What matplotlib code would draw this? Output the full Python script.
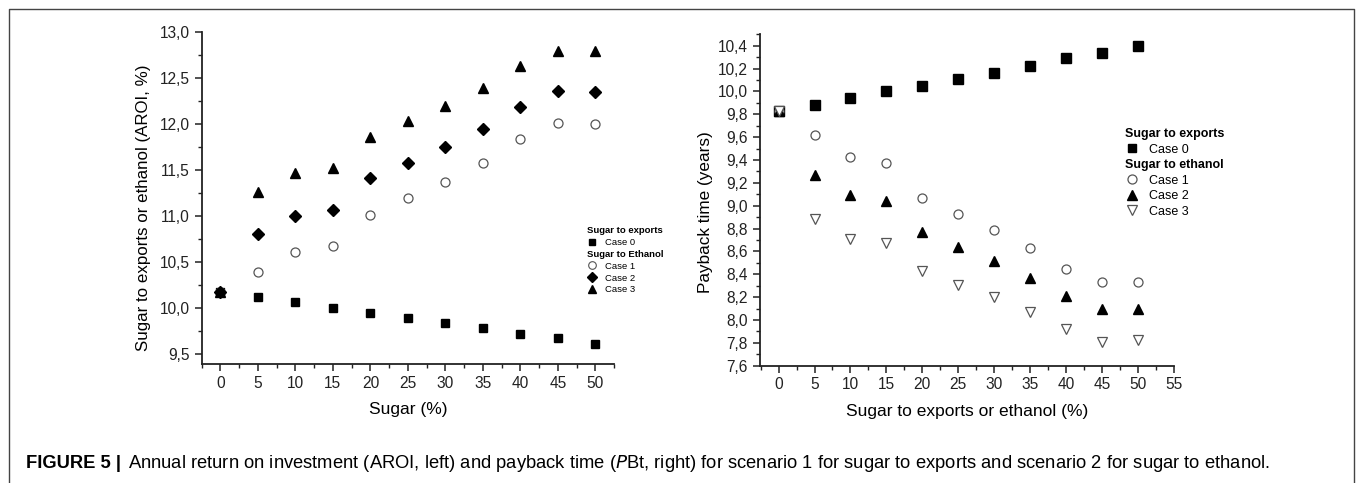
import matplotlib
matplotlib.use('Agg')
import matplotlib.pyplot as plt
from matplotlib.lines import Line2D
from matplotlib.ticker import MultipleLocator, FuncFormatter
import numpy as np

plt.rcParams['font.family'] = ['Liberation Sans', 'DejaVu Sans']

# ---- data ----
sugar = [0, 5, 10, 15, 20, 25, 30, 35, 40, 45, 50]

# left: AROI (%)
aroi_case0 = [10.17, 10.12, 10.06, 10.00, 9.95, 9.89, 9.84, 9.78, 9.72, 9.67, 9.61]
aroi_case1 = [10.17, 10.39, 10.61, 10.67, 11.01, 11.20, 11.37, 11.58, 11.84, 12.01, 12.00]
aroi_case2 = [10.17, 10.80, 11.00, 11.07, 11.41, 11.58, 11.75, 11.95, 12.19, 12.36, 12.35]
aroi_case3 = [10.17, 11.26, 11.47, 11.52, 11.86, 12.03, 12.20, 12.39, 12.63, 12.80, 12.79]

# right: payback time (years)
pbt_case0 = [9.83, 9.88, 9.94, 10.00, 10.05, 10.11, 10.16, 10.22, 10.29, 10.34, 10.40]
pbt_case1 = [9.83, 9.62, 9.43, 9.37, 9.07, 8.93, 8.79, 8.63, 8.45, 8.33, 8.33]
pbt_case2 = [9.83, 9.27, 9.09, 9.04, 8.77, 8.64, 8.52, 8.37, 8.21, 8.10, 8.10]
pbt_case3 = [9.83, 8.88, 8.71, 8.67, 8.43, 8.31, 8.20, 8.07, 7.92, 7.81, 7.82]

left_headers = ['Sugar to exports', 'Sugar to Ethanol']
right_headers = ['Sugar to exports', 'Sugar to ethanol']

comma = FuncFormatter(lambda v, p: ('%.1f' % v).replace('.', ','))
comma0 = FuncFormatter(lambda v, p: '%d' % round(v))


def style_axes(ax):
    for s in ['top', 'right']:
        ax.spines[s].set_visible(False)
    for s in ['left', 'bottom']:
        ax.spines[s].set_linewidth(1.3)
        ax.spines[s].set_color('#222222')
    ax.tick_params(which='major', direction='out', length=5, width=1.1,
                   labelsize=11.2, colors='#222222')
    ax.tick_params(which='minor', direction='out', length=3, width=1.0,
                   colors='#222222')


def header_legend(ax, handles, labels, headers, fs, anchor, spacing):
    leg = ax.legend(handles, labels, loc='upper left', bbox_to_anchor=anchor,
                    frameon=False, fontsize=fs, borderpad=0, labelspacing=spacing,
                    handlelength=1.0, handletextpad=0.9, borderaxespad=0)
    # header rows: bold, no handle space
    col = leg._legend_handle_box.get_children()[0]
    for row, t in zip(col.get_children(), leg.get_texts()):
        if t.get_text() in headers:
            t.set_fontweight('bold')
            row.get_children()[0].width = 0
            row.sep = 0
    return leg


fig = plt.figure(figsize=(13.57, 4.83), dpi=100)

# outer frame (top, left, right)
fig.add_artist(Line2D([0.0066, 0.0066, 0.9978, 0.9978], [0.0, 0.981, 0.981, 0.0],
                      transform=fig.transFigure, color='#444444', lw=1.0))

# ---- left panel ----
ax1 = fig.add_axes([0.1486, 0.2464, 0.304, 0.687])
ax1.plot(sugar, aroi_case0, 's', ms=6, color='black', ls='none')
ax1.plot(sugar, aroi_case1, 'o', ms=6.5, mfc='white', mec='#555555', mew=0.9, ls='none')
ax1.plot(sugar, aroi_case2, 'D', ms=6, color='black', ls='none')
ax1.plot(sugar, aroi_case3, '^', ms=7, color='black', ls='none')
ax1.set_xlim(-2.5, 52.5)
ax1.set_ylim(9.39, 13.0)
ax1.xaxis.set_major_locator(MultipleLocator(5))
ax1.xaxis.set_minor_locator(MultipleLocator(2.5))
ax1.yaxis.set_major_locator(MultipleLocator(0.5))
ax1.yaxis.set_minor_locator(MultipleLocator(0.25))
ax1.yaxis.set_major_formatter(comma)
ax1.xaxis.set_major_formatter(comma0)
style_axes(ax1)
ax1.set_xlabel('Sugar (%)', fontsize=12.5, labelpad=8)
ax1.set_ylabel('Sugar to exports or ethanol (AROI, %)', fontsize=12.2)
ax1.yaxis.set_label_coords(-0.122, 0.47)

blank = Line2D([], [], ls='none')
h1 = [blank,
      Line2D([], [], marker='s', ms=5, color='black', ls='none'),
      blank,
      Line2D([], [], marker='o', ms=5.5, mfc='white', mec='#555555', mew=0.8, ls='none'),
      Line2D([], [], marker='D', ms=5, color='black', ls='none'),
      Line2D([], [], marker='^', ms=5.5, color='black', ls='none')]
l1 = [left_headers[0], 'Case 0', left_headers[1], 'Case 1', 'Case 2', 'Case 3']
header_legend(ax1, h1, l1, left_headers, 6.8, (0.935, 0.415), 0.3)

# ---- right panel ----
ax2 = fig.add_axes([0.560, 0.243, 0.305, 0.686])
ax2.plot(sugar, pbt_case0, 's', ms=6.5, color='black', ls='none')
ax2.plot(sugar, pbt_case1, 'o', ms=6.5, mfc='white', mec='#555555', mew=0.9, ls='none')
ax2.plot(sugar, pbt_case2, '^', ms=7.5, color='black', ls='none')
ax2.plot(sugar, pbt_case3, 'v', ms=7.5, mfc='white', mec='#555555', mew=0.9, ls='none')
ax2.set_xlim(-2.6, 55)
ax2.set_ylim(7.6, 10.5)
ax2.xaxis.set_major_locator(MultipleLocator(5))
ax2.xaxis.set_minor_locator(MultipleLocator(2.5))
ax2.yaxis.set_major_locator(MultipleLocator(0.2))
ax2.yaxis.set_minor_locator(MultipleLocator(0.1))
ax2.yaxis.set_major_formatter(comma)
ax2.xaxis.set_major_formatter(comma0)
style_axes(ax2)
ax2.set_xlabel('Sugar to exports or ethanol (%)', fontsize=12.5, labelpad=8)
ax2.set_ylabel('Payback time (years)', fontsize=12.3)
ax2.yaxis.set_label_coords(-0.114, 0.464)

h2 = [blank,
      Line2D([], [], marker='s', ms=6, color='black', ls='none'),
      blank,
      Line2D([], [], marker='o', ms=6.5, mfc='white', mec='#555555', mew=0.9, ls='none'),
      Line2D([], [], marker='^', ms=7, color='black', ls='none'),
      Line2D([], [], marker='v', ms=7, mfc='white', mec='#555555', mew=0.9, ls='none')]
l2 = [right_headers[0], 'Case 0', right_headers[1], 'Case 1', 'Case 2', 'Case 3']
header_legend(ax2, h2, l2, right_headers, 9, (0.883, 0.717), 0.28)

# ---- caption ----
fig.text(0.019, 0.041, 'FIGURE 5 |', fontsize=13.2, fontweight='bold', va='center')
fig.text(0.0943, 0.041,
         'Annual return on investment (AROI, left) and payback time ($\\it{P}$Bt, right) '
         'for scenario 1 for sugar to exports and scenario 2 for sugar to ethanol.',
         fontsize=13.2, va='center')

fig.savefig('out.png', dpi=100)
